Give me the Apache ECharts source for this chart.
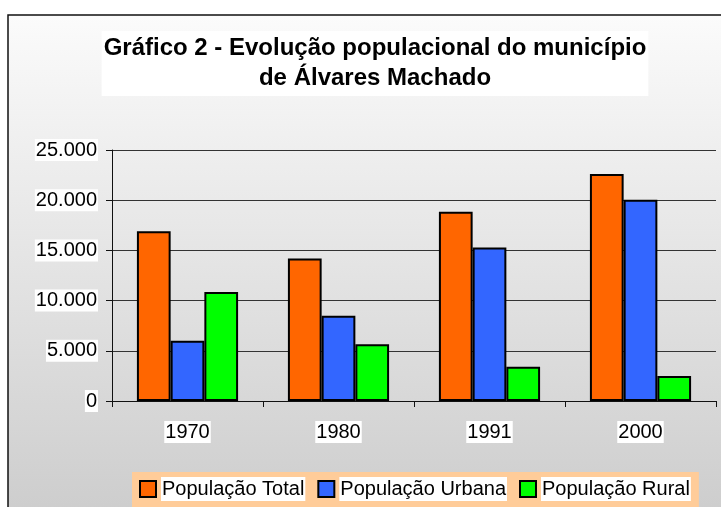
<!DOCTYPE html>
<html>
<head>
<meta charset="utf-8">
<script src="https://cdn.jsdelivr.net/npm/echarts@6/dist/echarts.min.js"></script>
<style>
    html, body { margin: 0; padding: 0; background: #fff; }
    #chart { width: 721px; height: 507px; }
</style>
</head>
<body>
<div id="chart"></div>
<script>
    var anos = ['1970', '1980', '1991', '2000'];
    var popTotal = [16900, 14200, 18850, 22600];
    var popUrbana = [6000, 8500, 15300, 20050];
    var popRural = [10850, 5650, 3400, 2500];
    var nomes = ['População Total', 'População Urbana', 'População Rural'];
    var cores = ['#FF6600', '#3366FF', '#00FF00'];

    var fonte = '"Liberation Sans", Arial, sans-serif';
    var myChart = echarts.init(document.getElementById('chart'));

    function serie(i, dados) {
        return {
            name: nomes[i],
            type: 'bar',
            data: dados,
            barGap: '0%',
            barCategoryGap: '33%',
            itemStyle: {
                color: cores[i],
                borderColor: '#000',
                borderWidth: 2
            }
        };
    }

    var option = {
        backgroundColor: '#fff',
        animation: false,
        graphic: [{
            type: 'rect',
            z: -10,
            silent: true,
            shape: { x: 8, y: 15, width: 720, height: 500 },
            style: {
                fill: new echarts.graphic.LinearGradient(0, 0, 0, 1, [
                    { offset: 0, color: '#fbfbfb' },
                    { offset: 1, color: '#cdcdcd' }
                ]),
                stroke: '#111',
                lineWidth: 1.5
            }
        }],
        title: {
            text: 'Gráfico 2 - Evolução populacional do município\nde Álvares Machado',
            left: 373,
            top: 31,
            textAlign: 'center',
            backgroundColor: '#fff',
            padding: [2, 2, 3, 2],
            textStyle: {
                fontFamily: fonte,
                fontSize: 24,
                fontWeight: 'bold',
                color: '#000',
                lineHeight: 30
            }
        },
        legend: {
            data: nomes,
            left: 132,
            top: 472,
            padding: [5, 8, 12, 7],
            itemGap: 12,
            itemWidth: 16,
            itemHeight: 16,
            icon: 'rect',
            backgroundColor: '#FFCC99',
            textStyle: {
                fontFamily: fonte,
                fontSize: 20,
                color: '#000',
                backgroundColor: '#fff',
                padding: [2, 1, 2, 1]
            }
        },
        grid: {
            left: 112,
            right: 5,
            top: 150,
            bottom: 106,
            containLabel: false
        },
        xAxis: {
            type: 'category',
            data: anos,
            axisLine: { lineStyle: { color: '#111', width: 1 } },
            axisTick: { show: true, length: 6, inside: false, lineStyle: { color: '#111' } },
            axisLabel: {
                margin: 20,
                fontFamily: fonte,
                fontSize: 20,
                color: '#000',
                backgroundColor: '#fff',
                padding: [1, 1, 1, 1]
            }
        },
        yAxis: {
            type: 'value',
            min: 0,
            max: 25000,
            interval: 5000,
            axisLine: { show: true, lineStyle: { color: '#111', width: 1 } },
            axisTick: { show: true, length: 6, lineStyle: { color: '#111' } },
            splitLine: { lineStyle: { color: '#333', width: 1 } },
            axisLabel: {
                margin: 14,
                fontFamily: fonte,
                fontSize: 20,
                color: '#000',
                backgroundColor: '#fff',
                padding: [1, 1, 1, 1],
                formatter: function (v) {
                    return String(v).replace(/\B(?=(\d{3})+(?!\d))/g, '.');
                }
            }
        },
        series: [
            serie(0, popTotal),
            serie(1, popUrbana),
            serie(2, popRural)
        ]
    };

    myChart.setOption(option);
</script>
</body>
</html>
